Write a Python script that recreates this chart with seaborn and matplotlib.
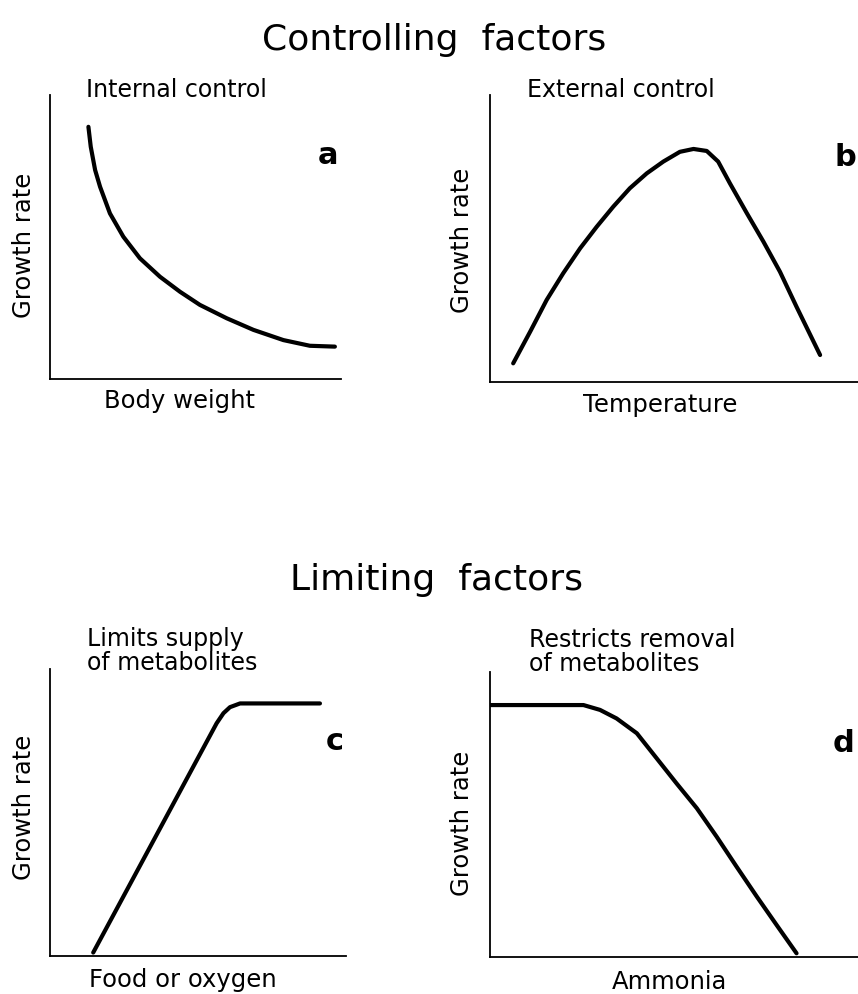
import matplotlib
matplotlib.use("Agg")
import matplotlib.pyplot as plt
import seaborn as sns
import pandas as pd

# curves, in axis units (0-100 both ways)
weight_x = [13.2, 14.0, 15.5, 17.2, 20.6, 25.2, 30.9, 37.8, 44.7, 51.5, 60.7, 69.9, 80.2, 89.3, 97.9]
weight_y = [88.8, 81.8, 73.6, 67.7, 58.3, 50.1, 42.5, 36.0, 30.7, 26.1, 21.4, 17.3, 13.7, 11.7, 11.4]

temp_x = [6.3, 10.9, 15.4, 19.9, 24.5, 29.0, 33.5, 38.0, 42.6, 47.1, 51.6, 55.3, 58.9, 62.0, 65.2, 69.8, 74.3, 78.8, 83.3, 89.7]
temp_y = [6.5, 17.5, 28.6, 37.9, 46.6, 54.1, 61.1, 67.5, 72.7, 76.8, 80.2, 81.2, 80.5, 76.8, 69.2, 58.8, 48.9, 38.4, 26.2, 9.4]

food_x = [14.6, 56.3, 58.6, 60.8, 64.2, 91.2]
food_y = [1.2, 81.1, 84.6, 86.7, 88.0, 88.0]

ammonia_x = [0.0, 25.4, 29.9, 34.4, 39.9, 45.3, 50.7, 56.2, 61.6, 67.0, 72.5, 77.9, 83.3]
ammonia_y = [88.4, 88.4, 86.7, 83.7, 78.5, 69.7, 60.9, 52.2, 42.2, 31.7, 21.2, 11.2, 1.3]

sections = ["Controlling  factors", "Limiting  factors"]
titles = ["Internal control", "External control",
          "Limits supply\nof metabolites", "Restricts removal\nof metabolites"]
xlabels = ["Body weight", "Temperature", "Food or oxygen", "Ammonia"]
letters = ["a", "b", "c", "d"]

sns.set_theme(style="white")
plt.rcParams['font.family'] = ['DejaVu Sans']
plt.rcParams['text.color'] = 'black'

W, H = 858, 994
fig = plt.figure(figsize=(W / 100, H / 100), dpi=100)


def fx(px):
    return px / W


def fy(py):
    return 1 - py / H


# panel boxes in pixels: left, top, right, bottom
boxes = [(50, 95, 341, 379), (490, 95, 858, 382),
         (50, 669, 346, 956), (490, 672, 858, 957)]
curves = [(weight_x, weight_y), (temp_x, temp_y),
          (food_x, food_y), (ammonia_x, ammonia_y)]

for i, (box, (xs, ys)) in enumerate(zip(boxes, curves)):
    l, t, r, b = box
    ax = fig.add_axes([fx(l), fy(b), (r - l) / W, (b - t) / H])
    df = pd.DataFrame({"x": xs, "y": ys})
    sns.lineplot(data=df, x="x", y="y", sort=False, color="black",
                 linewidth=3.0, ax=ax)
    ax.lines[0].set_solid_capstyle("round")
    ax.lines[0].set_solid_joinstyle("round")
    ax.set_xlim(0, 100)
    ax.set_ylim(0, 100)
    ax.set_xticks([])
    ax.set_yticks([])
    ax.set_xlabel("")
    ax.set_ylabel("")
    for s in ["top", "right"]:
        ax.spines[s].set_visible(False)
    for s in ["left", "bottom"]:
        ax.spines[s].set_color("black")
        ax.spines[s].set_linewidth(1.3)
    ax.patch.set_alpha(0)

# subtitles, axis labels and panel letters (pixel positions)
title_pos = [(86, 90), (527, 90), (87, 651), (529, 652)]
for (x, y), s in zip(title_pos, titles):
    fig.text(fx(x), fy(y), s, ha="left", va="center", fontsize=17,
             linespacing=1.0, color="black")

ylab_pos = [(24, 245), (462, 240), (24, 807), (462, 823)]
for x, y in ylab_pos:
    fig.text(fx(x), fy(y), "Growth rate", ha="center", va="center",
             rotation=90, fontsize=17.5, color="black")

xlab_pos = [(180, 401), (660, 405), (183, 980), (669, 982)]
for (x, y), s in zip(xlab_pos, xlabels):
    fig.text(fx(x), fy(y), s, ha="center", va="center", fontsize=17.5,
             color="black")

letter_pos = [(328, 155), (845, 158), (335, 742), (843, 743)]
for (x, y), s in zip(letter_pos, letters):
    fig.text(fx(x), fy(y), s, ha="center", va="center", fontsize=22,
             fontweight="bold", color="black")

fig.text(fx(434), fy(40), sections[0], ha="center", va="center",
         fontsize=26, color="black")
fig.text(fx(437), fy(580), sections[1], ha="center", va="center",
         fontsize=26, color="black")

fig.savefig("out.png", dpi=100)
